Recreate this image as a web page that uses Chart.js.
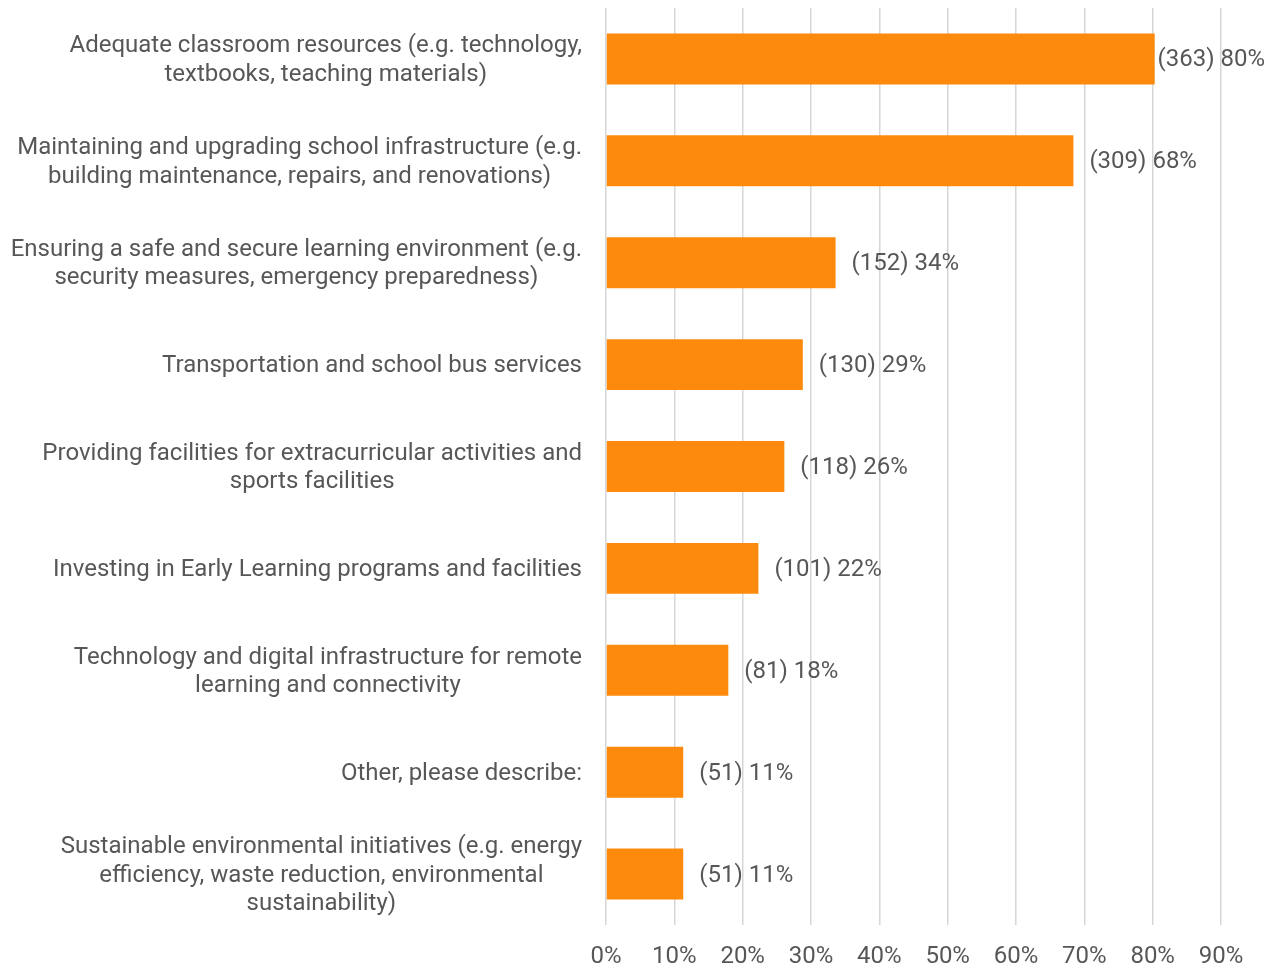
<!DOCTYPE html>
<html lang="en">

<head>
  <meta charset="UTF-8">
  <title>Chart</title>
  <script src="https://cdn.jsdelivr.net/npm/chart.js@4.4.1/dist/chart.umd.min.js"></script>
  <style>
    html, body { margin: 0; padding: 0; background: #fff; }
    #wrap { width: 1278px; height: 968px; }
  </style>
</head>

<body>
  <div id="wrap"><canvas id="chart"></canvas></div>
</body>

<script>
  // categories, already wrapped as in the picture
  const categories = [
    ['Adequate classroom resources (e.g. technology,', 'textbooks, teaching materials)'],
    ['Maintaining and upgrading school infrastructure (e.g.', 'building maintenance, repairs, and renovations)'],
    ['Ensuring a safe and secure learning environment (e.g.', 'security measures, emergency preparedness)'],
    ['Transportation and school bus services'],
    ['Providing facilities for extracurricular activities and', 'sports facilities'],
    ['Investing in Early Learning programs and facilities'],
    ['Technology and digital infrastructure for remote', 'learning and connectivity'],
    ['Other, please describe:'],
    ['Sustainable environmental initiatives (e.g. energy', 'efficiency, waste reduction, environmental', 'sustainability)']
  ];
  const counts = [363, 309, 152, 130, 118, 101, 81, 51, 51];
  const percents = [80.3, 68.4, 33.6, 28.8, 26.1, 22.3, 17.9, 11.3, 11.3];
  const percentLabels = ['80%', '68%', '34%', '29%', '26%', '22%', '18%', '11%', '11%'];

  const textColor = '#575757';
  const fontFamily = 'Roboto';

  // draws the category labels (centered lines, block right-aligned) and the bar value labels
  const labelPlugin = {
    id: 'labels',
    afterDatasetsDraw(chart) {
      const ctx = chart.ctx;
      const yScale = chart.scales.y;
      const meta = chart.getDatasetMeta(0);
      ctx.save();
      ctx.font = '24px ' + fontFamily;
      ctx.fillStyle = textColor;
      ctx.textBaseline = 'middle';
      const rightEdge = chart.chartArea.left - 24;
      const lineH = 28.5;
      categories.forEach((lines, i) => {
        const y = yScale.getPixelForValue(i);
        const widest = Math.max(...lines.map(l => ctx.measureText(l).width));
        const cx = rightEdge - widest / 2;
        ctx.textAlign = 'center';
        lines.forEach((l, j) => {
          ctx.fillText(l, cx, y + (j - (lines.length - 1) / 2) * lineH + 1.5);
        });
      });
      ctx.textAlign = 'left';
      meta.data.forEach((bar, i) => {
        const txt = '(' + counts[i] + ') ' + percentLabels[i];
        const w = ctx.measureText(txt).width;
        const x = Math.min(bar.x + 16, chart.width - 13 - w);
        ctx.fillText(txt, x, bar.y + 1.5);
      });
      ctx.restore();
    }
  };

  new Chart(document.getElementById('chart'), {
    type: 'bar',
    data: {
      labels: categories,
      datasets: [{
        data: percents,
        backgroundColor: '#fd8a0c',
        categoryPercentage: 1,
        barPercentage: 0.5
      }]
    },
    plugins: [labelPlugin],
    options: {
      indexAxis: 'y',
      responsive: true,
      maintainAspectRatio: false,
      animation: false,
      layout: { padding: { top: 8, right: 57, bottom: 0, left: 0 } },
      plugins: {
        legend: { display: false },
        tooltip: { enabled: false }
      },
      scales: {
        x: {
          min: 0,
          max: 90,
          grid: { color: '#d6d6d6', lineWidth: 1.5, drawTicks: false },
          border: { display: false },
          ticks: {
            stepSize: 10,
            padding: 18,
            color: textColor,
            font: { family: fontFamily, size: 24 },
            callback: v => v + '%'
          },
          afterFit(scale) { scale.height = 43; }
        },
        y: {
          grid: { display: false },
          border: { display: false },
          ticks: { display: false },
          afterFit(scale) { scale.width = 606; }
        }
      }
    }
  });
</script>

</html>
